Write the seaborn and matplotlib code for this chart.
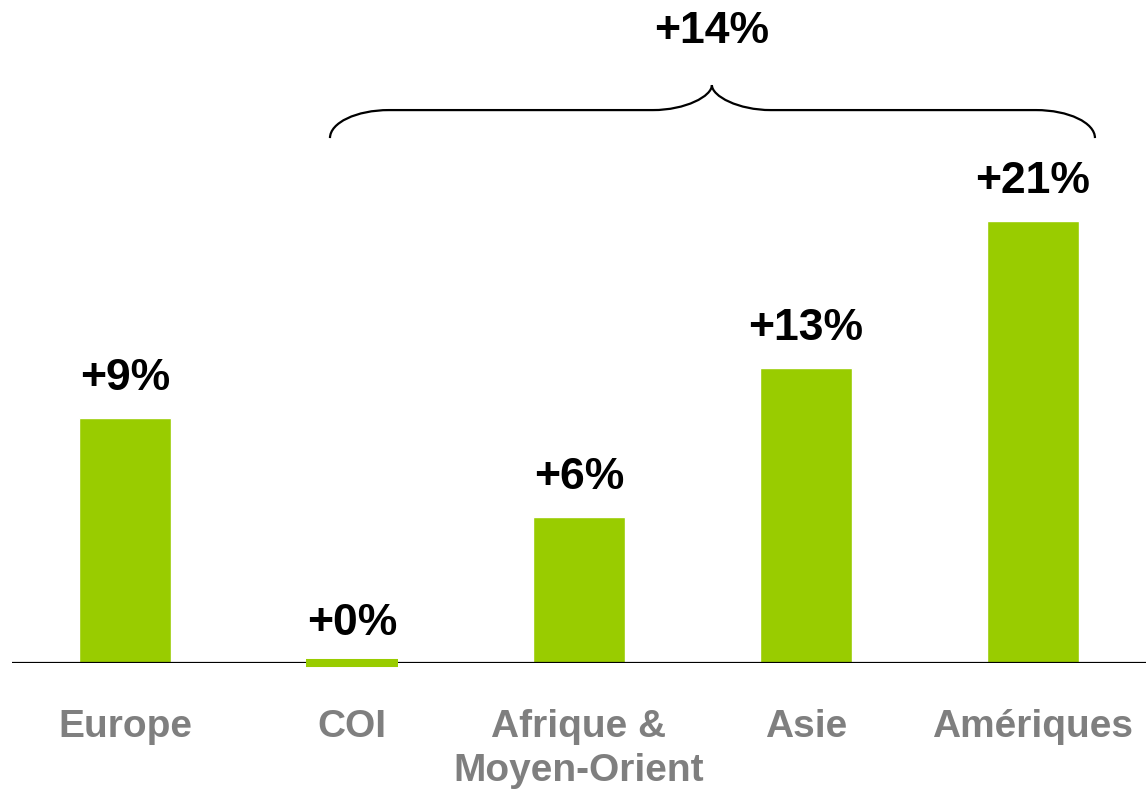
import matplotlib

matplotlib.use("Agg")
import matplotlib.pyplot as plt
from matplotlib.path import Path
import matplotlib.patches as mpatches
import seaborn as sns

# Data
categories = ["Europe", "COI", "Afrique &\nMoyen-Orient", "Asie", "Amériques"]
bar_heights = [11.64, 0.0, 6.94, 14.01, 21.0]   # bar heights as drawn
value_labels = ["+9%", "+0%", "+6%", "+13%", "+21%"]
total_label = "+14%"

GREEN = "#99CC00"
GREY = "#7F7F7F"

sns.set_style("white")
plt.rcParams["font.family"] = ["Liberation Sans", "DejaVu Sans"]
plt.rcParams["font.weight"] = "bold"

fig = plt.figure(figsize=(11.46, 7.93), dpi=100)
fig.patch.set_facecolor("white")
ax = fig.add_axes([12 / 1146, 130 / 793, 1134 / 1146, 663 / 793])

sns.barplot(
    x=categories,
    y=bar_heights,
    color=GREEN,
    saturation=1,
    width=0.405,
    ax=ax,
)

# the COI bar is only a thin sliver straddling the baseline
coi = ax.patches[1]
coi.set_edgecolor(GREEN)
coi.set_linewidth(5.8)
coi.set_zorder(4)
coi.set_clip_on(False)

ax.set_xlim(-0.5, 4.5)
ax.set_ylim(0, 31.5)
ax.axhline(0, color="black", lw=1.6, zorder=3)

for side in ["top", "right", "left", "bottom"]:
    ax.spines[side].set_visible(False)
ax.set_yticks([])
ax.set_ylabel("")
ax.set_xticks(range(len(categories)))
ax.set_xticklabels(categories, fontsize=28, color=GREY, fontweight="bold",
                   linespacing=1.3)
ax.tick_params(axis="x", length=0, pad=33)

# value labels above bars
for i, (h, lab) in enumerate(zip(bar_heights, value_labels)):
    ax.annotate(
        lab,
        xy=(i, h),
        xytext=(0, 20),
        textcoords="offset points",
        ha="center",
        va="baseline",
        fontsize=32,
        fontweight="bold",
        color="black",
    )

# curly brace over COI .. Amériques
def draw_brace(ax, x0, x1, xtip, y_end, y_flat, y_tip, r=0.26):
    k = 0.55
    verts = [
        (x0, y_end),
        (x0, y_end + k * (y_flat - y_end)), (x0 + r * (1 - k), y_flat), (x0 + r, y_flat),
        (xtip - r, y_flat),
        (xtip - r * (1 - k), y_flat), (xtip, y_flat + k * (y_tip - y_flat)), (xtip, y_tip),
        (xtip, y_flat + k * (y_tip - y_flat)), (xtip + r * (1 - k), y_flat), (xtip + r, y_flat),
        (x1 - r, y_flat),
        (x1 - r * (1 - k), y_flat), (x1, y_end + k * (y_flat - y_end)), (x1, y_end),
    ]
    codes = [
        Path.MOVETO,
        Path.CURVE4, Path.CURVE4, Path.CURVE4,
        Path.LINETO,
        Path.CURVE4, Path.CURVE4, Path.CURVE4,
        Path.CURVE4, Path.CURVE4, Path.CURVE4,
        Path.LINETO,
        Path.CURVE4, Path.CURVE4, Path.CURVE4,
    ]
    patch = mpatches.PathPatch(Path(verts, codes), facecolor="none",
                               edgecolor="black", lw=1.6, clip_on=False)
    ax.add_patch(patch)


draw_brace(ax, 0.902, 4.275, 2.586, 24.94, 26.27, 27.46)
ax.text(2.586, 29.45, total_label, ha="center", va="baseline",
        fontsize=32, fontweight="bold", color="black")

fig.savefig("out.png", dpi=100, facecolor="white")
